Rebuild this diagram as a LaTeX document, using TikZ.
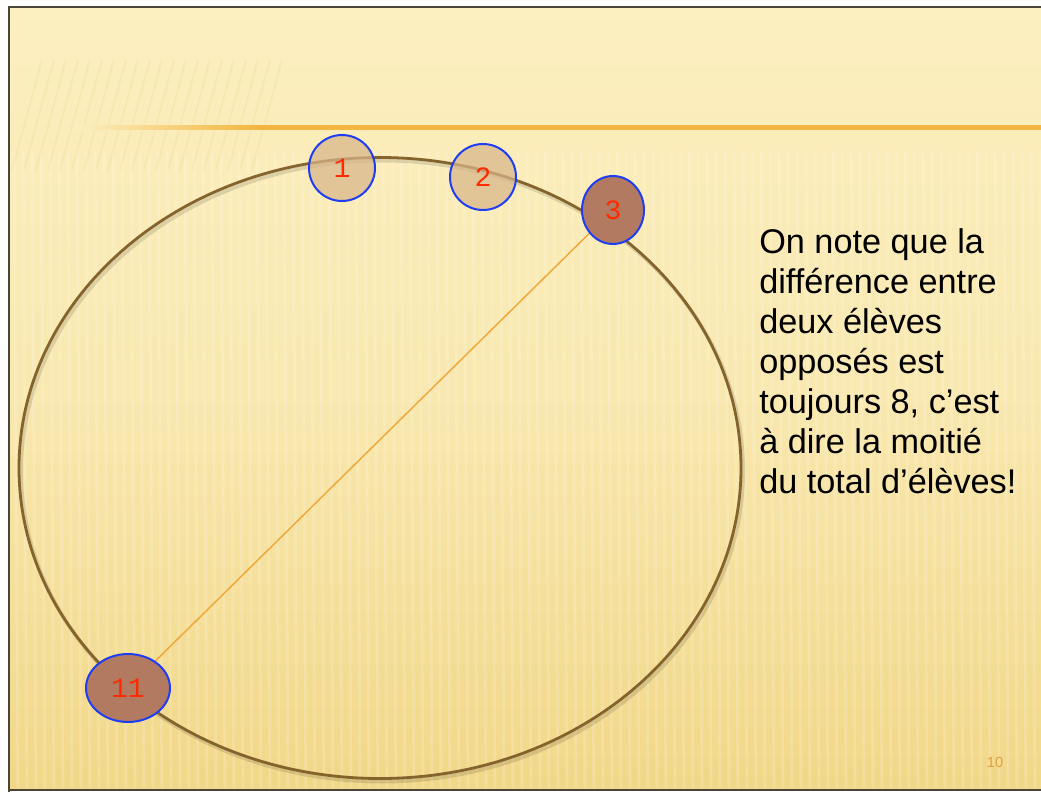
\documentclass[tikz,border=0pt]{standalone}
\usepackage{fontspec}
\setmainfont{Liberation Sans}
\newfontfamily\numfont{Liberation Mono}
\usetikzlibrary{shapes.geometric, backgrounds}
\definecolor{Ctop}{HTML}{FCEFC0}
\definecolor{Cbot}{HTML}{F1D787}
\definecolor{Cstripe}{HTML}{E9CF7E}
\definecolor{Cbar}{HTML}{F3B640}
\definecolor{Bframe}{HTML}{4A4536}
\definecolor{Bring}{HTML}{84632C}
\definecolor{Bseat}{HTML}{1F3DF2}
\definecolor{Cseat}{HTML}{D8B68A}
\definecolor{Cpick}{HTML}{B37A62}
\definecolor{Rnum}{HTML}{FF2A00}
\definecolor{Cchord}{HTML}{F0A83A}
\definecolor{Cpage}{HTML}{E0A040}
\tikzset{
  ring/.style     = {ellipse, draw=Bring, line width=2.1pt,
                     minimum width=541.5pt, minimum height=465.75pt,
                     inner sep=0pt},
  ringshade/.style = {ring, draw=black, opacity=0.12, line width=3pt},
  seat/.style     = {ellipse, draw=Bseat, line width=1.5pt, fill=Cseat,
                     fill opacity=0.72, text opacity=1, text=Rnum,
                     minimum width=49.5pt, minimum height=49.5pt,
                     inner sep=0pt, font=\numfont\fontsize{21}{21}\selectfont},
  pick/.style     = {seat, fill=Cpick, fill opacity=1},
  chord/.style    = {Cchord, line width=1.1pt},
  note/.style     = {anchor=north west, align=left, inner sep=0pt,
                     font=\fontsize{25.7}{30}\selectfont},
}
\begin{document}
\begin{tikzpicture}[x=0.75pt, y=-0.75pt]
\useasboundingbox (0,0) rectangle (1041,792);

%% slide background
\begin{pgfonlayer}{background}
\fill[white] (0,0) rectangle (1041,792);
\fill[top color=Ctop, bottom color=Cbot, middle color=Ctop!70!Cbot]
  (9,7) rectangle (1041,790);
\foreach \x in {14,23,...,1040}
  \draw[white, opacity=0.16, line width=2.2pt] (\x,150) -- (\x+4,790);
\foreach \x in {12,24,...,260}
  \draw[Cstripe, opacity=0.18, line width=1.5pt] (\x+30,60) -- (\x,170);
\end{pgfonlayer}
\draw[Bframe, line width=1.4pt] (9,792) -- (9,7) -- (1041,7);
\draw[Bframe, line width=1.4pt] (9,790) -- (1041,790);
\shade[left color=Ctop, right color=Cbar] (75,125) rectangle (260,129.5);
\fill[Cbar] (260,125) rectangle (1041,129.5);

%% the ring of pupils
\node[ringshade] (shadow) at (382,471) {};
\node[ring] (ring) at (380,468) {};

\node[seat] (s1) at (342,168) {1};
\node[seat] (s2) at (483,177) {2};
\node[pick, minimum width=46.5pt, minimum height=51pt] (s3) at (613,210) {3};
\node[pick, minimum width=63pt, minimum height=51pt] (s11) at (128,688) {11};

\begin{pgfonlayer}{background}
\draw[chord] (s3.center) -- (s11.center);
\end{pgfonlayer}

%% text
\node[note] (remark) at (759,228.5)
  {On note que la\\diff\'erence entre\\deux \'el\`eves\\oppos\'es est\\toujours 8, c’est\\\`a dire la moiti\'e\\du total d’\'el\`eves!};

\node[text=Cpage, font=\fontsize{11}{11}\selectfont] (page) at (995,762) {10};

\end{tikzpicture}
\end{document}
